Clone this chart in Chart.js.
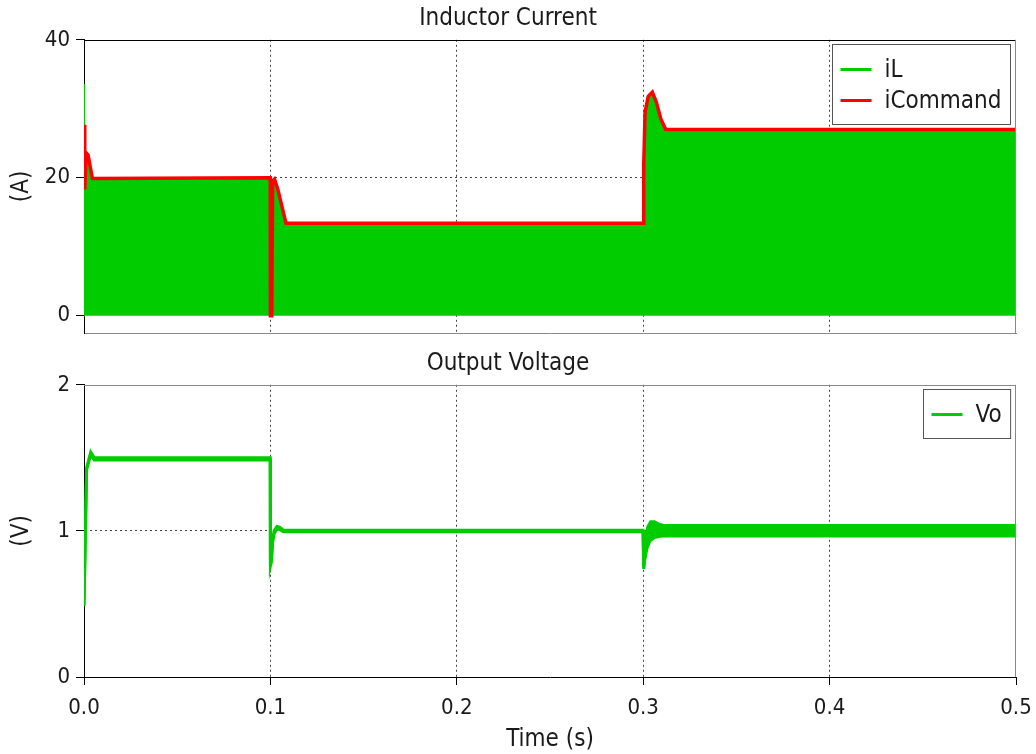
<!DOCTYPE html>
<html>
<head>
<meta charset="utf-8">
<script src="https://cdn.jsdelivr.net/npm/chart.js@4.4.1/dist/chart.umd.min.js"></script>
<style>
body { margin: 0; background: #fff; width: 1036px; height: 754px; overflow: hidden; }
canvas { position: absolute; left: 0; }
#topChart { top: 0; }
#botChart { top: 345px; }
</style>
</head>
<body>
<canvas id="topChart" width="1036" height="345"></canvas>
<canvas id="botChart" width="1036" height="409"></canvas>
<script>
// inductor current, upper edge of the switching ripple (A)
var iLTime = [0, 0.00005, 0.0003, 0.0006, 0.0012, 0.0022, 0.0045, 0.0999, 0.1, 0.1007, 0.1012, 0.1022, 0.104, 0.1065, 0.1084, 0.2999, 0.3003, 0.301, 0.3027, 0.3049, 0.307, 0.3095, 0.3121, 0.5];
var iLVal = [0, 33.6, 24.0, 18.5, 23.2, 23.0, 19.8, 19.8, 0, 0, 19.3, 19.6, 18.1, 15.3, 13.3, 13.3, 21.8, 29.3, 31.6, 32.2, 30.8, 28.3, 26.9, 26.9];

// current command (A)
var iCmdTime = [0, 0.0004, 0.0012, 0.0022, 0.0045, 0.0999, 0.1, 0.1007, 0.1012, 0.1022, 0.104, 0.1065, 0.1084, 0.3, 0.3003, 0.301, 0.3027, 0.3049, 0.307, 0.3095, 0.3121, 0.5];
var iCmdVal = [27.7, 18.3, 23.6, 23.3, 19.9, 20.0, 0, 0, 19.5, 19.8, 18.3, 15.5, 13.4, 13.4, 22.0, 29.5, 31.8, 32.4, 31.0, 28.5, 27.0, 27.0];

// output voltage, ripple band (V)
var voHiTime = [0, 0.0014, 0.0036, 0.0055, 0.0999, 0.1, 0.1005, 0.1012, 0.102, 0.1035, 0.105, 0.107, 0.2999, 0.3003, 0.301, 0.3025, 0.304, 0.306, 0.3085, 0.311, 0.5];
var voHiVal = [0.49, 1.43, 1.54, 1.50, 1.50, 0.76, 0.80, 0.94, 1.00, 1.03, 1.025, 1.005, 1.005, 0.75, 0.93, 1.03, 1.063, 1.062, 1.045, 1.037, 1.037];
var voLoTime = [0, 0.0014, 0.0036, 0.0055, 0.0999, 0.1, 0.1005, 0.1012, 0.102, 0.1035, 0.105, 0.107, 0.2999, 0.3003, 0.3008, 0.302, 0.3035, 0.306, 0.309, 0.311, 0.5];
var voLoVal = [0.49, 1.42, 1.52, 1.485, 1.485, 0.76, 0.79, 0.92, 0.98, 1.015, 1.01, 0.995, 0.995, 0.74, 0.80, 0.88, 0.93, 0.955, 0.963, 0.965, 0.965];

var green = '#00cc00';
var red = '#ff0000';
var fontFamily = "'DejaVu Sans Condensed', 'Roboto', sans-serif";

Chart.defaults.font.family = fontFamily;
Chart.defaults.font.size = 22;
Chart.defaults.color = '#1a1a1a';

function toPoints(ts, vs) {
	var pts = [];
	for (var i = 0; i < ts.length; i++) {
		pts.push({ x: ts[i], y: vs[i] });
	}
	return pts;
}

// dotted grid lines only between the edges
function innerGrid(min, max) {
	return function (ctx) {
		var v = ctx.tick ? ctx.tick.value : null;
		if (v === null || Math.abs(v - min) < 1e-9 || Math.abs(v - max) < 1e-9) {
			return 'rgba(0,0,0,0)';
		}
		return '#444';
	};
}

var framePlugin = {
	id: 'frame',
	afterDatasetsDraw: function (chart, args, opts) {
		var a = chart.chartArea;
		var ctx = chart.ctx;
		ctx.save();
		ctx.lineWidth = 1;
		ctx.strokeStyle = opts.top;
		ctx.beginPath();
		ctx.moveTo(a.left, Math.round(a.top) + 0.5);
		ctx.lineTo(a.right, Math.round(a.top) + 0.5);
		ctx.stroke();
		ctx.strokeStyle = opts.right;
		ctx.beginPath();
		ctx.moveTo(Math.round(a.right) - 0.5, a.top);
		ctx.lineTo(Math.round(a.right) - 0.5, a.bottom);
		ctx.stroke();
		ctx.restore();
	}
};

var legendPlugin = {
	id: 'boxLegend',
	afterDraw: function (chart) {
		var items = chart.data.datasets.filter(function (d) { return d.label; });
		var a = chart.chartArea;
		var ctx = chart.ctx;
		ctx.save();
		ctx.font = '24px ' + fontFamily;
		var tw = 0;
		items.forEach(function (d) {
			tw = Math.max(tw, ctx.measureText(d.label).width);
		});
		var w = 8 + 31 + 13 + tw + 9;
		var h = 25 + (items.length - 1) * 31 + 24;
		var x = Math.round(a.right - 6 - w) + 0.5;
		var y = Math.round(a.top + 4) + 0.5;
		ctx.fillStyle = '#fff';
		ctx.fillRect(x, y, w, h);
		ctx.strokeStyle = '#555';
		ctx.lineWidth = 1;
		ctx.strokeRect(x, y, w, h);
		items.forEach(function (d, i) {
			var ly = y + 25 + i * 31;
			ctx.strokeStyle = d.borderColor;
			ctx.lineWidth = 3;
			ctx.beginPath();
			ctx.moveTo(x + 8, ly);
			ctx.lineTo(x + 39, ly);
			ctx.stroke();
			ctx.fillStyle = '#1a1a1a';
			ctx.textBaseline = 'middle';
			ctx.fillText(d.label, x + 52, ly + 1);
		});
		ctx.restore();
	}
};

function xAxis(showLabels, borderColor) {
	return {
		type: 'linear',
		min: 0,
		max: 0.5,
		ticks: {
			display: showLabels,
			stepSize: 0.1,
			padding: 10,
			callback: function (v) { return v.toFixed(1); }
		},
		grid: {
			color: innerGrid(0, 0.5),
			lineWidth: 1,
			drawTicks: showLabels,
			tickLength: 8,
			tickColor: '#000'
		},
		border: { display: true, color: borderColor, width: 1, dash: [2, 3] },
		title: {
			display: showLabels,
			text: 'Time (s)',
			font: { size: 24 },
			padding: { top: 0, bottom: 0 }
		},
		afterFit: function (scale) {
			scale.height = showLabels ? 77 : 0;
			scale.paddingLeft = 0;
			scale.paddingRight = 0;
		}
	};
}

function yAxis(min, max, step, title) {
	return {
		min: min,
		max: max,
		afterBuildTicks: function (scale) {
			var t = [];
			for (var v = 0; v <= max + 1e-9; v += step) t.push({ value: v });
			scale.ticks = t;
		},
		ticks: { padding: 6 },
		grid: {
			color: innerGrid(0, max),
			lineWidth: 1,
			drawTicks: true,
			tickLength: 8,
			tickColor: '#000'
		},
		border: { display: true, color: '#000', width: 1, dash: [2, 3] },
		title: {
			display: true,
			text: title,
			font: { size: 24 },
			padding: { top: 7, bottom: 0 }
		},
		afterFit: function (scale) {
			scale.width = 84;
			scale.paddingTop = 0;
			scale.paddingBottom = 0;
		}
	};
}

var common = {
	responsive: false,
	animation: false,
	devicePixelRatio: 1,
	elements: { point: { radius: 0 }, line: { tension: 0 } },
	events: []
};

new Chart(document.getElementById('topChart'), {
	type: 'line',
	data: {
		datasets: [
			{
				label: 'iL',
				data: toPoints(iLTime, iLVal),
				borderColor: green,
				backgroundColor: green,
				borderWidth: 1.5,
				fill: 'origin',
				order: 2
			},
			{
				label: 'iCommand',
				data: toPoints(iCmdTime, iCmdVal),
				borderColor: red,
				borderWidth: 3.5,
				fill: false,
				order: 1
			}
		]
	},
	options: Object.assign({}, common, {
		layout: { padding: { left: 0, right: 20, top: 0, bottom: 12 } },
		scales: {
			x: xAxis(false, '#888'),
			y: yAxis(-2.5, 40, 20, '(A)')
		},
		plugins: {
			legend: { display: false },
			tooltip: { enabled: false },
			title: {
				display: true,
				text: 'Inductor Current',
				font: { size: 24, weight: 'normal' },
				padding: { top: 4, bottom: 7 }
			},
			frame: { top: '#000', right: '#888' }
		}
	}),
	plugins: [framePlugin, legendPlugin]
});

new Chart(document.getElementById('botChart'), {
	type: 'line',
	data: {
		datasets: [
			{
				label: 'Vo',
				data: toPoints(voHiTime, voHiVal),
				borderColor: green,
				backgroundColor: green,
				borderWidth: 3,
				fill: '+1'
			},
			{
				label: '',
				data: toPoints(voLoTime, voLoVal),
				borderColor: green,
				backgroundColor: green,
				borderWidth: 3,
				fill: false
			}
		]
	},
	options: Object.assign({}, common, {
		layout: { padding: { left: 0, right: 20, top: 0, bottom: 0 } },
		scales: {
			x: xAxis(true, '#000'),
			y: yAxis(0, 2, 1, '(V)')
		},
		plugins: {
			legend: { display: false },
			tooltip: { enabled: false },
			title: {
				display: true,
				text: 'Output Voltage',
				font: { size: 24, weight: 'normal' },
				padding: { top: 4, bottom: 7 }
			},
			frame: { top: '#888', right: '#888' }
		}
	}),
	plugins: [framePlugin, legendPlugin]
});
</script>
</body>
</html>
